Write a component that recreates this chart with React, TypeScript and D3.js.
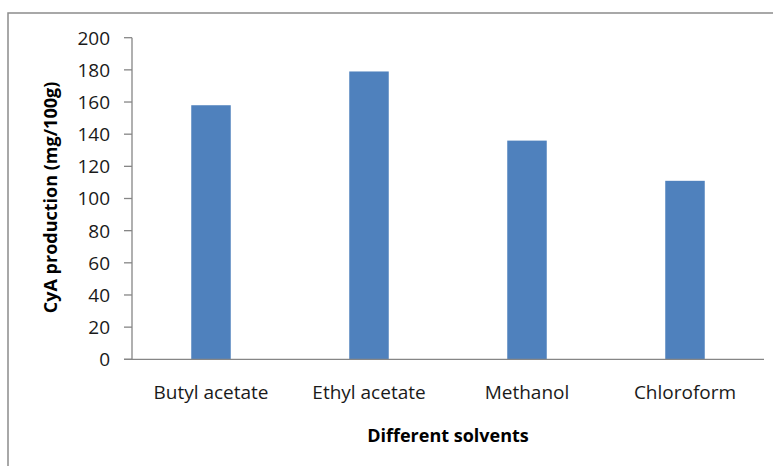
import { useEffect } from 'react';
import * as d3 from 'd3';

const solvents = ['Butyl acetate', 'Ethyl acetate', 'Methanol', 'Chloroform'];
const production = [158, 179, 136, 111];
const yTicks = [0, 20, 40, 60, 80, 100, 120, 140, 160, 180, 200];

const width = 773;
const height = 466;
const margin = { top: 37.7, right: 9, bottom: 106.7, left: 132 };
const font = '"Open Sans", sans-serif';
const axisColor = '#868686';

export default function App() {
  useEffect(() => {
    document.body.style.margin = '0';
  }, []);

  const plotW = width - margin.left - margin.right;
  const plotH = height - margin.top - margin.bottom;

  const x = d3.scaleBand<string>()
    .domain(solvents)
    .range([0, plotW])
    .paddingInner(0.75)
    .paddingOuter(0.375);

  const y = d3.scaleLinear().domain([0, 200]).range([plotH, 0]);

  return (
    <svg width={width} height={height} style={{ display: 'block', background: 'white' }}>
      {/* chart frame */}
      <rect x={8} y={13} width={width} height={height} fill="none" stroke="#8c8c8c" strokeWidth={1.5} />

      <g transform={`translate(${margin.left},${margin.top})`}>
        {production.map((v, i) => (
          <rect
            key={solvents[i]}
            x={x(solvents[i])}
            y={y(v)}
            width={x.bandwidth()}
            height={plotH - y(v)}
            fill="#4F81BD"
          />
        ))}

        {/* y axis */}
        <line x1={0} x2={0} y1={0} y2={plotH} stroke={axisColor} strokeWidth={1.3} />
        {yTicks.map(t => (
          <g key={t} transform={`translate(0,${y(t)})`}>
            <line x1={-8} x2={0} stroke={axisColor} strokeWidth={1.3} />
            <text x={-22} dy="0.36em" textAnchor="end" fontFamily={font} fontSize={19} fill="#1a1a1a">
              {t}
            </text>
          </g>
        ))}

        {/* x axis */}
        <line x1={-8} x2={plotW} y1={plotH} y2={plotH} stroke={axisColor} strokeWidth={1.3} />
        {solvents.map(s => (
          <text
            key={s}
            x={(x(s) ?? 0) + x.bandwidth() / 2}
            y={plotH + 40}
            textAnchor="middle"
            fontFamily={font}
            fontSize={19}
            fill="#1a1a1a"
          >
            {s}
          </text>
        ))}

        <text
          x={plotW / 2}
          y={plotH + 83}
          textAnchor="middle"
          fontFamily={font}
          fontSize={18}
          fontWeight="bold"
          fill="#000"
        >
          Different solvents
        </text>

        <text
          transform={`translate(${57 - margin.left},${plotH / 2 - 1}) rotate(-90)`}
          textAnchor="middle"
          fontFamily={font}
          fontSize={18}
          fontWeight="bold"
          fill="#000"
        >
          CyA production (mg/100g)
        </text>
      </g>
    </svg>
  );
}
